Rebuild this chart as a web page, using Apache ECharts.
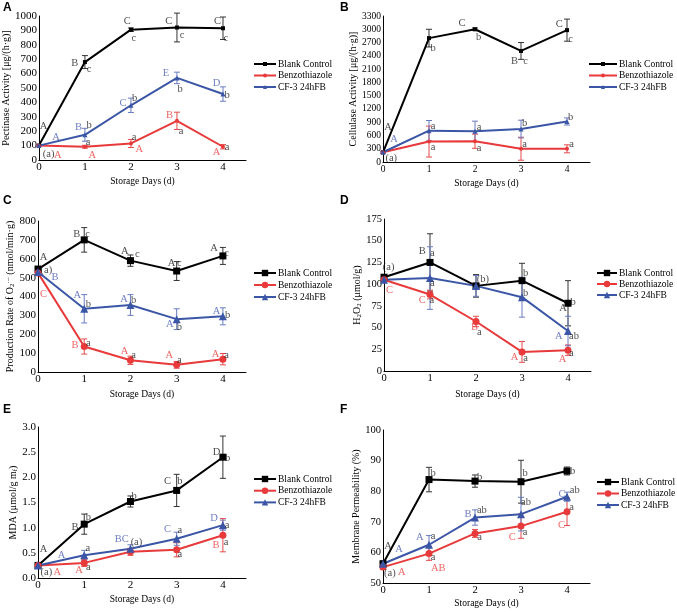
<!DOCTYPE html>
<html><head><meta charset="utf-8">
<script src="https://cdn.jsdelivr.net/npm/echarts/dist/echarts.min.js"></script>
<style>html,body{margin:0;padding:0;background:#fff}#c{width:677px;height:612px}</style>
</head><body><div id="c"></div>
<script>
const days = [0, 1, 2, 3, 4];
const seriesNames = ['Blank Control', 'Benzothiazole', 'CF-3 24hFB'];

// A Pectinase
const pectBlank = [100, 680, 905, 920, 915], pectBlankErr = [6, 45, 12, 100, 78];
const pectBenzo = [100, 92, 115, 272, 92],   pectBenzoErr = [5, 10, 28, 60, 15];
const pectCF    = [100, 175, 380, 570, 458], pectCFErr    = [5, 45, 50, 40, 50];
// B Cellulase
const cellBlank = [220, 2800, 3000, 2510, 2980], cellBlankErr = [20, 200, 30, 190, 250];
const cellBenzo = [220, 462, 470, 300, 298],    cellBenzoErr = [20, 350, 160, 260, 90];
const cellCF    = [220, 708, 693, 745, 916],    cellCFErr    = [20, 230, 230, 200, 80];
// C O2- production
const o2Blank = [545, 700, 590, 535, 615], o2BlankErr = [15, 65, 30, 50, 45];
const o2Benzo = [525, 135, 62, 38, 68],    o2BenzoErr = [10, 40, 22, 18, 30];
const o2CF    = [530, 335, 355, 280, 295], o2CFErr    = [10, 75, 55, 55, 45];
// D H2O2
const h2Blank = [108, 125, 98, 104, 78], h2BlankErr = [3, 33, 13, 20, 26];
const h2Benzo = [105, 88, 57, 22, 24],   h2BenzoErr = [2, 5, 6, 12, 6];
const h2CF    = [105, 107, 98, 85, 46],  h2CFErr    = [2, 36, 12, 23, 17];
// E MDA
const mdaBlank = [0.25, 1.07, 1.52, 1.74, 2.40], mdaBlankErr = [0.02, 0.2, 0.11, 0.32, 0.42];
const mdaBenzo = [0.25, 0.30, 0.52, 0.56, 0.85], mdaBenzoErr = [0.02, 0.07, 0.07, 0.14, 0.33];
const mdaCF    = [0.25, 0.45, 0.58, 0.78, 1.05], mdaCFErr    = [0.02, 0.1, 0.08, 0.13, 0.1];
// F Membrane permeability
const mpBlank = [56.3, 83.8, 83.3, 83.1, 86.6], mpBlankErr = [0.8, 4, 2, 7, 1.3];
const mpBenzo = [55.2, 59.6, 66.2, 68.6, 73.3], mpBenzoErr = [0.8, 2.2, 1.3, 4, 4.5];
const mpCF    = [56.3, 62.5, 71.4, 72.5, 78.2], mpCFErr    = [0.8, 3, 2.5, 5.5, 1.5];

// y-axis tick settings [min, max, interval]
const yTicksA = [0, 1000, 100], yTicksB = [0, 3300, 300], yTicksC = [0, 800, 100];
const yTicksD = [0, 175, 25], yTicksE = [0, 3, 0.5], yTicksF = [50, 100, 10];

// significance letters [day, value, text, colour key]
const labelsA = [[0.1,234,'A','k'],[0.37,161,'A','b'],[0.21,41,'(a)','k'],[0.41,30,'A','r'],
 [0.78,671,'B','k'],[1.09,628,'c','k'],[0.86,230,'B','b'],[1.09,241,'b','k'],[1.07,120,'a','k'],[1.16,30,'A','r'],
 [1.92,966,'C','k'],[2.06,846,'c','k'],[1.83,391,'C','b'],[2.08,430,'b','k'],[2.07,156,'a','k'],[2.18,74,'A','r'],
 [2.82,966,'C','k'],[3.11,869,'c','k'],[2.76,602,'E','b'],[3.07,494,'b','k'],[2.84,310,'B','r'],[3.09,202,'a','k'],
 [3.88,961,'C','k'],[4.06,846,'c','k'],[3.86,533,'D','b'],[4.09,448,'b','k'],[3.86,57,'A','r'],[4.09,92,'a','k']];
const labelsB = [[0.11,782,'A','k'],[0.24,507,'A','b'],[0.18,89,'(a)','k'],
 [1.09,2571,'b','k'],[1.09,805,'a','k'],[1.09,335,'a','k'],
 [1.72,3130,'C','k'],[2.08,2817,'b','k'],[2.09,790,'a','k'],[2.09,305,'a','k'],
 [2.86,2288,'B','k'],[3.1,2288,'c','k'],[3.08,880,'b','k'],[3.08,410,'a','k'],
 [3.83,3107,'C','k'],[4.08,2772,'c','k'],[4.08,1006,'b','k'],[4.1,395,'a','k']];
const labelsC = [[0.12,606,'A','k'],[0.18,540,'(a)','k'],[0.37,504,'B','b'],[0.12,411,'C','r'],
 [0.84,728,'B','k'],[1.07,728,'c','k'],[0.85,406,'A','b'],[1.09,360,'b','k'],[0.8,141,'B','r'],[1.09,153,'a','k'],
 [1.88,640,'A','k'],[2.15,624,'c','k'],[1.86,385,'A','b'],[2.07,378,'b','k'],[1.87,112,'A','r'],[2.07,88,'a','k'],
 [2.89,578,'A','k'],[3.06,578,'c','k'],[2.85,253,'A','b'],[3.06,236,'b','k'],[2.84,91,'A','r'],[3.06,62,'a','k'],
 [3.81,654,'A','k'],[4.08,627,'c','k'],[3.86,323,'A','b'],[4.1,302,'b','k'],[3.84,95,'A','r'],[4.08,91,'a','k']];
const labelsD = [[0.1,119,'(a)','k'],[0.12,93,'C','r'],
 [0.83,138,'B','k'],[1.05,135,'a','k'],[1.05,101,'a','k'],[0.83,81,'C','r'],[1.04,81,'a','k'],
 [2.15,106,'(b)','k'],[1.97,50,'B','r'],[2.07,45,'a','k'],
 [3.08,113,'b','k'],[3.08,90,'b','k'],[2.84,16,'A','r'],[3.08,15,'a','k'],
 [3.89,72,'A','k'],[4.11,79,'b','k'],[3.8,40,'A','b'],[4.13,40,'ab','k'],[3.88,13,'A','r'],[4.07,20,'a','k']];
const labelsE = [[0.12,0.57,'A','k'],[0.51,0.46,'A','b'],[0.18,0.12,'(a)','k'],[0.42,0.12,'A','r'],
 [0.8,1.0,'B','k'],[1.09,1.2,'b','k'],[1.08,0.59,'a','k'],[0.89,0.16,'A','r'],[1.09,0.21,'a','k'],
 [2.08,1.63,'b','k'],[1.81,0.77,'BC','b'],[2.13,0.72,'(a)','k'],
 [2.8,1.93,'C','k'],[3.07,1.92,'b','k'],[2.8,0.97,'C','b'],[3.07,0.95,'a','k'],[3.07,0.47,'a','k'],
 [3.86,2.49,'D','k'],[4.1,2.38,'b','k'],[3.81,1.18,'D','b'],[4.09,1.04,'a','k'],[3.85,0.66,'B','r'],[4.07,0.72,'a','k']];
const labelsF = [[0.11,62,'A','k'],[0.35,60.9,'A','b'],[0.15,53.3,'(a)','k'],[0.41,53.6,'A','r'],
 [1.09,86,'b','k'],[0.8,64.8,'A','b'],[1.09,65.3,'a','k'],[1.09,58.3,'a','k'],[1.2,54.9,'AB','r'],
 [2.1,84.7,'b','k'],[1.85,72.5,'B','b'],[2.15,73.8,'ab','k'],[2.1,64.8,'a','k'],
 [3.09,86,'b','k'],[3.11,76.5,'ab','k'],[3.09,66.7,'a','k'],[2.81,65.1,'C','r'],
 [4.12,86.4,'b','k'],[3.89,78.9,'C','b'],[4.17,80.3,'ab','k'],[4.1,74.7,'a','k'],[3.88,68.9,'C','r']];

const FONT = '"Liberation Serif", "Times New Roman", serif';
const LINE_COLORS = ['#000000', '#e8393b', '#3b56a6'];
const ERR_COLORS = ['#333333', '#e54b4b', '#6a7cc0'];
const TEXT_COLORS = { k: '#1a1a1a', r: '#e8403f', b: '#4b5eb2' };

const panels = [
  { key:'A', grid:{left:38, top:16, width:208, height:144}, ticks:yTicksA, tick:11,
    name:'Pectinase Activity [μg/(h·g)]', nameGap:22, xGap:16,
    data:[[pectBlank,pectBlankErr],[pectBenzo,pectBenzoErr],[pectCF,pectCFErr]], labels:labelsA,
    small:true, legend:{left:253, top:59, w:22, gap:1.5}, letter:[3,2] },
  { key:'B', grid:{left:383, top:16, width:207, height:146}, ticks:yTicksB, tick:9.5,
    name:'Cellulase Activity [μg/(h·g)]', nameGap:20, xGap:16,
    data:[[cellBlank,cellBlankErr],[cellBenzo,cellBenzoErr],[cellCF,cellCFErr]], labels:labelsB,
    small:true, legend:{left:588, top:59, w:28, gap:1.5}, letter:[340,2] },
  { key:'C', grid:{left:38, top:221, width:208, height:151}, ticks:yTicksC, tick:11,
    name:'Production Rate of O{sub|2}{sup|·−} (nmol/min·g)', nameGap:20, xGap:17,
    data:[[o2Blank,o2BlankErr],[o2Benzo,o2BenzoErr],[o2CF,o2CFErr]], labels:labelsC,
    small:false, legend:{left:253, top:268, w:22, gap:2}, letter:[3,195] },
  { key:'D', grid:{left:384, top:219, width:207, height:152}, ticks:yTicksD, tick:10.5,
    name:'H{sub|2}O{sub|2} (μmol/g)', nameGap:21, xGap:18,
    data:[[h2Blank,h2BlankErr],[h2Benzo,h2BenzoErr],[h2CF,h2CFErr]], labels:labelsD,
    small:false, legend:{left:596, top:268, w:20, gap:1}, letter:[340,195] },
  { key:'E', grid:{left:38, top:427, width:208, height:151}, ticks:yTicksE, tick:11, fixed:1,
    name:'MDA (μmol/g m{sub|f})', nameGap:17, xGap:16,
    data:[[mdaBlank,mdaBlankErr],[mdaBenzo,mdaBenzoErr],[mdaCF,mdaCFErr]], labels:labelsE,
    small:false, legend:{left:253, top:474, w:22, gap:1.7}, letter:[3,404] },
  { key:'F', grid:{left:383, top:430, width:207, height:153}, ticks:yTicksF, tick:10.5,
    name:'Membrane Permeability (%)', nameGap:19, xGap:15,
    data:[[mpBlank,mpBlankErr],[mpBenzo,mpBenzoErr],[mpCF,mpCFErr]], labels:labelsF,
    small:false, legend:{left:596, top:477, w:22, gap:1.5}, letter:[340,404] }
];

const grids = [], xAxes = [], yAxes = [], series = [], legends = [], graphics = [];
const symbols = ['rect', 'circle', 'triangle'];

panels.forEach((p, i) => {
  grids.push(Object.assign({containLabel:false}, p.grid));
  xAxes.push({
    type:'value', gridIndex:i, min:0, max:4.5, interval:1,
    name:'Storage Days (d)', nameLocation:'middle', nameGap:p.xGap,
    nameTextStyle:{fontFamily:FONT, fontSize:9.5, color:'#000'},
    axisLine:{lineStyle:{color:'#000', width:1}}, axisTick:{show:false}, splitLine:{show:false},
    axisLabel:{fontFamily:FONT, fontSize:p.tick, color:'#000', margin:2,
      formatter: v => Number.isInteger(v) ? String(v) : ''}
  });
  yAxes.push({
    type:'value', gridIndex:i, min:p.ticks[0], max:p.ticks[1], interval:p.ticks[2],
    name:p.name, nameLocation:'middle', nameGap:p.nameGap,
    nameTextStyle:{fontFamily:FONT, fontSize:10, color:'#000',
      rich:{sub:{fontFamily:FONT, fontSize:7, color:'#000', verticalAlign:'bottom', padding:[3,0,0,0]},
            sup:{fontFamily:FONT, fontSize:7, color:'#000', verticalAlign:'top'}}},
    axisLine:{show:true, lineStyle:{color:'#000', width:1}}, axisTick:{show:false}, splitLine:{show:false},
    axisLabel:{fontFamily:FONT, fontSize:p.tick, color:'#000', margin:2,
      formatter: v => p.fixed ? v.toFixed(p.fixed) : String(v)}
  });
  const names = seriesNames.map(n => n + '\u200b'.repeat(i));
  p.data.forEach((pair, j) => {
    const [vals, errs] = pair;
    const col = ERR_COLORS[j];
    series.push({
      type:'custom', xAxisIndex:i, yAxisIndex:i, silent:true, z:2,
      data: days.map((d, k) => [d, vals[k], errs[k]]),
      encode:{x:0, y:1},
      renderItem:(params, api) => {
        const x = api.value(0), y = api.value(1), e = api.value(2);
        const t = api.coord([x, y + e]), b = api.coord([x, y - e]);
        const hw = 3;
        const st = {stroke:col, lineWidth:1};
        return {type:'group', children:[
          {type:'line', shape:{x1:t[0], y1:t[1], x2:b[0], y2:b[1]}, style:st},
          {type:'line', shape:{x1:t[0]-hw, y1:t[1], x2:t[0]+hw, y2:t[1]}, style:st},
          {type:'line', shape:{x1:b[0]-hw, y1:b[1], x2:b[0]+hw, y2:b[1]}, style:st}
        ]};
      }
    });
    let size = p.small ? [4, 4, 5][j] : [7, 7, 8][j];
    series.push({
      type:'line', name:names[j], xAxisIndex:i, yAxisIndex:i, z:3,
      data: days.map((d, k) => [d, vals[k]]),
      symbol:symbols[j], symbolSize:size, showSymbol:true,
      lineStyle:{color:LINE_COLORS[j], width:2}, itemStyle:{color:LINE_COLORS[j]},
      animation:false
    });
  });
  series.push({
    type:'scatter', xAxisIndex:i, yAxisIndex:i, symbolSize:0, silent:true, z:5,
    data: p.labels.map(l => ({value:[l[0], l[1]], label:{formatter:l[2], color:TEXT_COLORS[l[3]]}})),
    label:{show:true, position:'inside', fontFamily:FONT, fontSize:10.5},
    animation:false
  });
  const ih = p.small ? 5 : 8;
  legends.push({
    orient:'vertical', left:p.legend.left, top:p.legend.top, itemWidth:p.legend.w, itemHeight:ih,
    itemGap:p.legend.gap, selectedMode:false, padding:0,
    data:names, formatter: n => n.replace(/\u200b/g, ''),
    textStyle:{fontFamily:FONT, fontSize:9.5, color:'#000', lineHeight:10, padding:[0,0,0,-3]}
  });
  graphics.push({type:'text', left:p.letter[0], top:p.letter[1],
    style:{text:p.key, font:'bold 12px "Liberation Sans", Arial, sans-serif', fill:'#000'}});
});

const chart = echarts.init(document.getElementById('c'), null, {renderer:'canvas'});
chart.setOption({
  backgroundColor:'#fff', animation:false,
  grid:grids, xAxis:xAxes, yAxis:yAxes, series:series, legend:legends, graphic:graphics
});
</script></body></html>
